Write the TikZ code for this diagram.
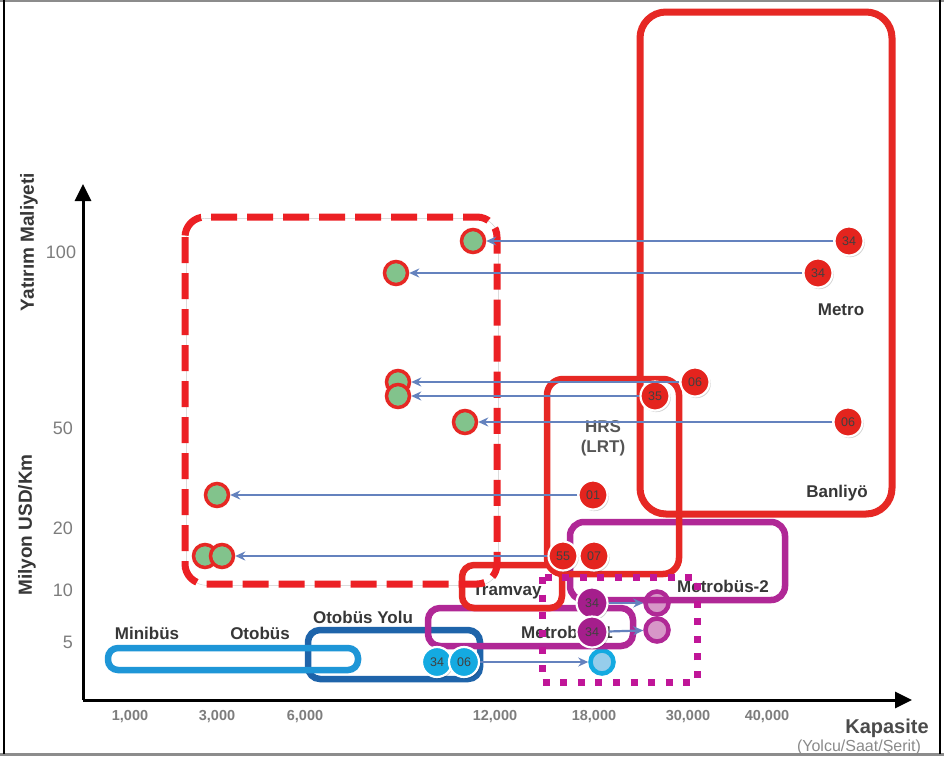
\documentclass[tikz,border=0pt]{standalone}
\usepackage{fontspec}
\setmainfont{Liberation Sans}
\usetikzlibrary{arrows.meta}

\definecolor{redc}{RGB}{230,40,36}
\definecolor{dashred}{RGB}{236,32,36}
\definecolor{magc}{RGB}{176,40,150}
\definecolor{dotc}{RGB}{192,22,152}
\definecolor{bluedark}{RGB}{30,100,170}
\definecolor{bluelight}{RGB}{30,150,215}
\definecolor{arrowc}{RGB}{100,130,190}
\definecolor{greenf}{RGB}{130,195,140}
\definecolor{numred}{RGB}{228,36,30}
\definecolor{nummag}{RGB}{165,30,140}
\definecolor{cyanc}{RGB}{20,170,225}
\definecolor{lightcyan}{RGB}{150,205,235}
\definecolor{pinkf}{RGB}{215,150,200}
\definecolor{textc}{RGB}{55,55,55}
\definecolor{tickc}{RGB}{125,125,125}

\tikzset{
  shadowed/.style={preaction={draw=black,draw opacity=0.22,transform canvas={shift={(1.3pt,-1.3pt)}}}},
  group/.style={rounded corners=#1,line width=6.5,shadowed},
  group/.default=18,
  axis/.style={line width=3,draw=black,-{Triangle[length=17,width=16]}},
  conn/.style={draw=arrowc,line width=2.2,-{Stealth[length=10,width=9]}},
  lbl/.style={font=\fontsize{17}{20}\selectfont\bfseries,text=textc,inner sep=0},
  tick/.style={font=\fontsize{18}{20}\selectfont,text=tickc,inner sep=0},
  xtick/.style={font=\fontsize{14.5}{16}\selectfont\bfseries,text=tickc,inner sep=0},
  numbase/.style={circle,draw=white,line width=2.2,minimum size=29,inner sep=0,
    font=\fontsize{12.5}{13}\selectfont,text=black!75,
    preaction={fill=black,fill opacity=0.18,transform canvas={shift={(1.3pt,-1.6pt)}}}},
  numr/.style={numbase,fill=numred},
  numm/.style={numbase,fill=nummag,minimum size=31},
  numc/.style={numbase,fill=cyanc,minimum size=30},
  grn/.style={circle,fill=greenf,draw=redc,line width=3.5,minimum size=23,inner sep=0},
  pinktarget/.style={circle,fill=pinkf,draw=magc,line width=4.5,minimum size=23,inner sep=0},
  cyantarget/.style={circle,fill=lightcyan,draw=cyanc,line width=4.5,minimum size=23,inner sep=0},
}

\begin{document}
\begin{tikzpicture}[x=1pt,y=-1pt]
\useasboundingbox (0,0) rectangle (944,756);
\fill[white] (0,0) rectangle (944,756);

% outer frame
\draw[black!45,line width=2] (0,1) -- (944,1);
\draw[black!45,line width=3] (0,754.5) -- (944,754.5);
\draw[black,line width=1.5] (4,0) -- (4,754);
\draw[black,line width=1.5] (940,0) -- (940,754);

% axes
\coordinate (O) at (83,700);
\coordinate (ytip) at (83,184);
\coordinate (xtip) at (912,700);
\draw[axis] (O) -- (ytip);
\draw[axis] (O) -- (xtip);

% axis titles
\node[font=\fontsize{19}{20}\selectfont\bfseries,text=textc,rotate=90] (ytitle1) at (29,242) {Yatırım Maliyeti};
\node[font=\fontsize{19}{20}\selectfont\bfseries,text=textc,rotate=90] (ytitle2) at (27,525) {Milyon USD/Km};
\node[font=\fontsize{20}{22}\selectfont\bfseries,text=textc!90,inner sep=0] (xtitle1) at (887,728) {Kapasite};
\node[font=\fontsize{16}{18}\selectfont,text=tickc!90,inner sep=0] (xtitle2) at (859,747) {(Yolcu/Saat/Şerit)};

% y tick labels
\node[tick] (y100) at (61,252) {100};
\node[tick] (y50) at (63,428) {50};
\node[tick] (y20) at (63,528) {20};
\node[tick] (y10) at (63,590) {10};
\node[tick] (y5) at (68,642) {5};

% x tick labels
\node[xtick] (x1) at (130,717) {1,000};
\node[xtick] (x3) at (217,717) {3,000};
\node[xtick] (x6) at (305,717) {6,000};
\node[xtick] (x12) at (495,717) {12,000};
\node[xtick] (x18) at (594,717) {18,000};
\node[xtick] (x30) at (688,717) {30,000};
\node[xtick] (x40) at (767,717) {40,000};

% bus groups
\draw[group=12,draw=bluedark] (308,630) rectangle (480,679);
\draw[group=10,draw=bluelight] (108,648) rectangle (358,670);

% targets of the BRT lines
\node[pinktarget] (mt1) at (657,603) {};
\node[pinktarget] (mt2) at (657,630) {};
\node[cyantarget] (ct) at (602,662) {};

% BRT groups
\draw[group=14,draw=magc] (570,522) rectangle (785,600);
\draw[group=12,draw=magc] (428,608) rectangle (633,646);

% rail groups
\draw[group=26,draw=redc,line width=7] (640,12) rectangle (892,514);
\draw[group=16,draw=redc] (547,379) rectangle (679,574);
\draw[group=12,draw=redc] (462,565) rectangle (562,608);

% group labels
\node[lbl] (lmetro) at (841,310) {Metro};
\node[lbl] (lbanliyo) at (837,493) {Banliyö};
\node[lbl,text=textc!85,align=center] (lhrs) at (603,438) {HRS\\(LRT)};
\node[lbl] (ltram) at (507,591) {Tramvay};
\node[lbl] (lmb2) at (723,586) {Metrobüs-2};
\node[lbl] (lmb1) at (567,632) {Metrobüs-1};
\node[lbl] (lyolu) at (363,617) {Otobüs Yolu};
\node[lbl] (lmini) at (147,633) {Minibüs};
\node[lbl] (lotobus) at (260,633) {Otobüs};

% proposed range
\draw[draw=dashred,line width=7,rounded corners=20,dash pattern=on 26 off 10,shadowed] (185,217) rectangle (497,584);
\draw[draw=dotc,line width=7,dash pattern=on 7 off 10.6] (542,577) rectangle (697,682);

% target points
\node[grn] (g1) at (473,241) {};
\node[grn] (g2) at (396,273) {};
\node[grn] (g3) at (398,382) {};
\node[grn] (g4) at (398,396) {};
\node[grn] (g5) at (465,422) {};
\node[grn] (g6) at (217,495) {};
\node[grn] (g7a) at (205,556) {};
\node[grn] (g7b) at (222,556) {};

% city markers
\node[numr] (r34a) at (849,241) {34};
\node[numr] (r34b) at (818,273) {34};
\node[numr] (r06a) at (695,382) {06};
\node[numr] (r35) at (655,396) {35};
\node[numr] (r06b) at (848,422) {06};
\node[numr] (r01) at (593,495) {01};
\node[numr] (r55) at (563,556) {55};
\node[numr] (r07) at (594,556) {07};
\node[numm] (m34a) at (592,603) {34};
\node[numm] (m34b) at (592,632) {34};
\node[numc] (c34) at (437,662) {34};
\node[numc] (c06) at (464,662) {06};

% shifts
\draw[conn] (r34a) -- (g1);
\draw[conn] (r34b) -- (g2);
\draw[conn] (r06a) -- (g3);
\draw[conn] (r35) -- (g4);
\draw[conn] (r06b) -- (g5);
\draw[conn] (r01) -- (g6);
\draw[conn] (r55) -- (g7b);
\draw[conn] (m34a) -- (mt1);
\draw[conn] (m34b) -- (mt2);
\draw[conn] (c06) -- (ct);
\end{tikzpicture}
\end{document}
